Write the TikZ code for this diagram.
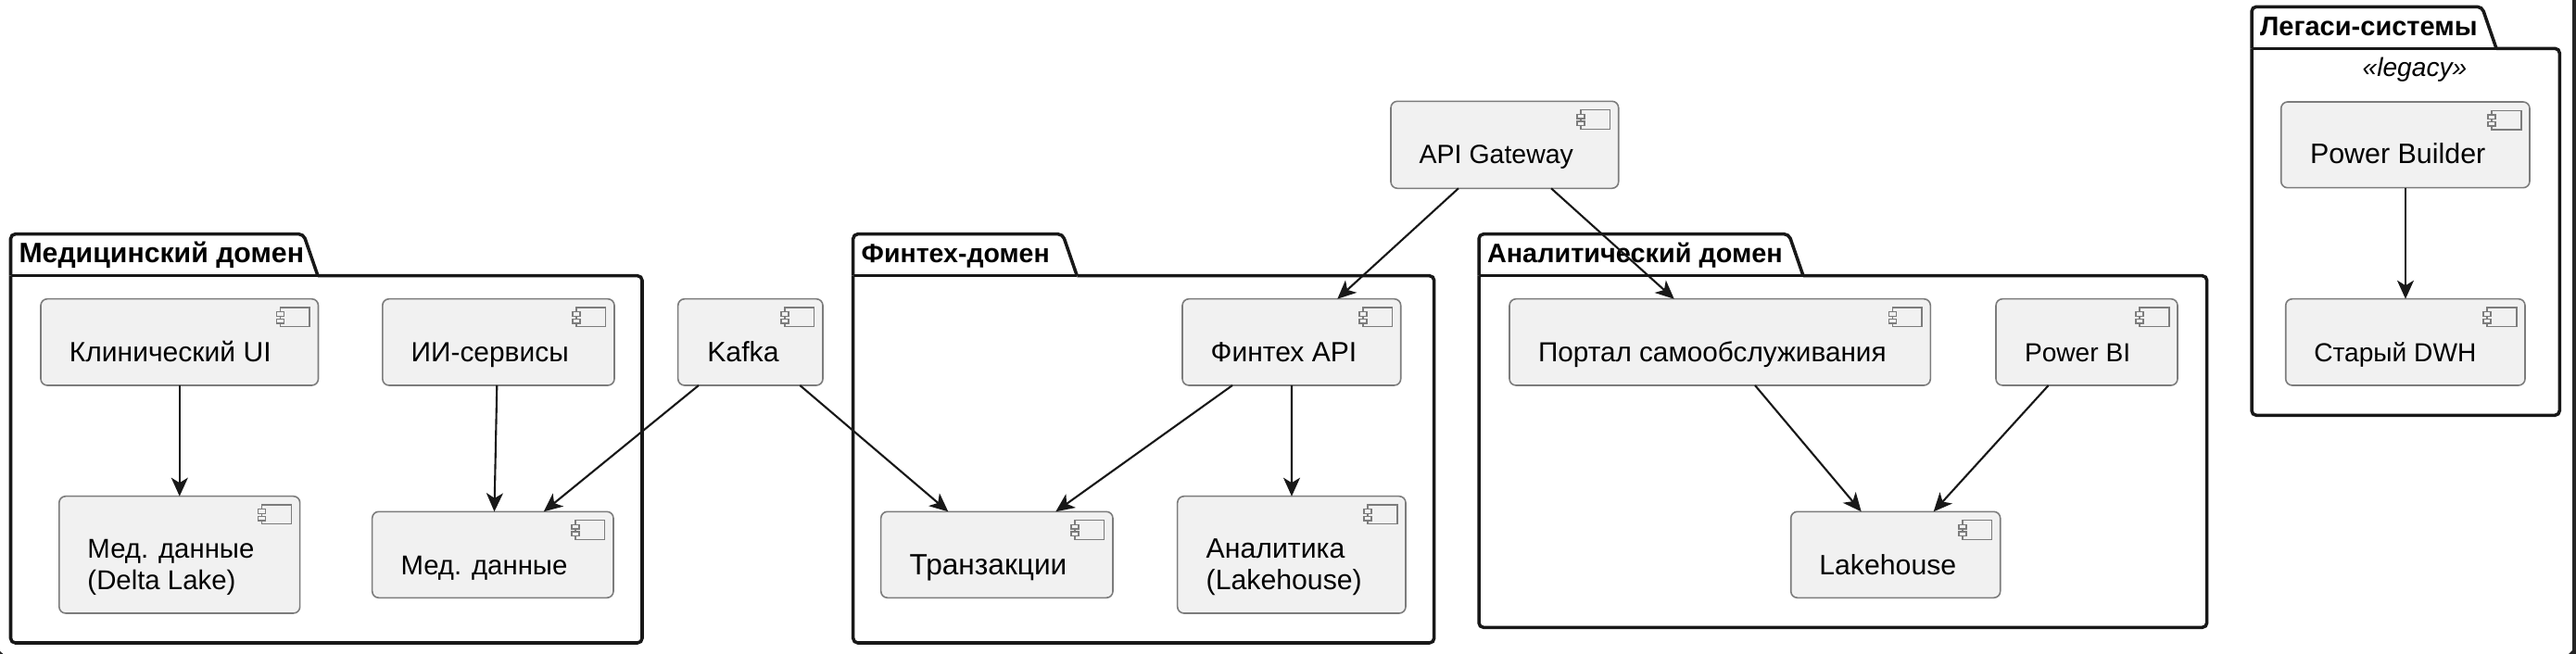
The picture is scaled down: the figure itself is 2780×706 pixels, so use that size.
\documentclass[tikz,border=0pt]{standalone}
\usepackage{fontspec}
\setmainfont{Liberation Sans}
\usetikzlibrary{arrows.meta}
\def\pxu{0.01cm}
\definecolor{boxfill}{HTML}{F1F1F1}
\definecolor{boxline}{HTML}{7C7C7C}
\definecolor{inkline}{HTML}{181818}
\tikzset{
  compbox/.style={draw=boxline,line width=0.45pt,fill=boxfill,rounded corners=2pt,inner sep=0pt,outer sep=0pt,anchor=north west},
  complabel/.style={align=left,inner sep=0pt,outer sep=0pt,anchor=base west},
  pkgtitle/.style={inner sep=0pt,outer sep=0pt,anchor=base west},
  pkgline/.style={draw=inkline,line width=1pt},
  iconline/.style={draw=boxline,line width=0.45pt,fill=boxfill},
  flow/.style={draw=inkline,line width=0.6pt,-{Stealth[length=20*\pxu,width=18*\pxu,inset=5.5*\pxu]}}
}
\begin{document}
\begin{tikzpicture}[x=\pxu,y=-\pxu]
  \useasboundingbox (0,0) rectangle (2780,706);
  % edge of the screenshot
  \fill[inkline!95] (2776,0) rectangle (2780,706);
  \fill[inkline!95] (2776,702) -- (2772,706) -- (2776,706) -- cycle;
  \fill[inkline!95] (0,703) -- (3.5,706) -- (0,706) -- cycle;
  % packages
  \foreach \pkg/\pl/\pr/\tt/\bt/\bb/\tabr/\sz/\ttl in {
      med/11.5/693/252.7/297.7/694/343/8.6/{Медицинский домен},
      fin/920.7/1547.7/252.7/297.7/694/1162.3/8.1/{Финтех-домен},
      ana/1596/2381.7/252.7/297.7/677.3/1946/8.2/{Аналитический домен},
      leg/2430/2762.3/7.3/52.3/448.3/2694/8.25/{Легаси-системы}} {
    \draw[pkgline,rounded corners=5*\pxu] (\pl,\bt) -- (\pl,\tt) -- ({\tabr-15.5},\tt) -- (\tabr,\bt);
    \draw[pkgline,rounded corners=5*\pxu] (\tabr,\bt) -- (\pr,\bt) -- (\pr,\bb) -- (\pl,\bb) -- (\pl,\bt);
    \draw[pkgline] (\pl,\bt) -- (\tabr,\bt);
    \node[pkgtitle,font=\fontsize{\sz}{9.45}\selectfont\bfseries] (\pkg-title) at ({\pl+9},{\tt+31}) {\ttl};
  }
  \node[font=\fontsize{8}{9.45}\selectfont\itshape,inner sep=0pt,anchor=base] (legstereo) at (2606,83) {«legacy»};
  % components
  \foreach \name/\xl/\yt/\bw/\bh/\tx/\bl/\sz/\ttx in {
      clinui/44/322.7/299.5/93.3/30.8/67.3/8.55/{Клинический UI},
      aisvc/412.8/322.7/250.2/93.3/30.8/67.3/8.5/{ИИ-сервисы},
      medlake/63.8/535.7/259.9/126.3/30.7/100.3/8.35/{Мед. данные\\(Delta Lake)},
      meddata/401.7/552.3/260.3/93/30.8/67.7/8.35/{Мед. данные},
      kafka/731.7/322.7/156.3/93.3/31.6/67.3/8.6/{Kafka},
      tx/950.7/552.3/250.3/93/31/67.7/9/{Транзакции},
      fintechapi/1276/322.7/235.7/93.3/30.7/67.3/8.55/{Финтех API},
      fintechlake/1270.7/535.7/246.3/126.3/31/100.3/8.6/{Аналитика\\(Lakehouse)},
      gateway/1501/109.3/245.7/94/30.7/67.4/8.1/{API Gateway},
      portal/1629/322.7/454.3/93.3/31/67.3/8.45/{Портал самообслуживания},
      powerbi/2154/322.7/196/93.3/31/67.3/8/{Power BI},
      lakehouse/1932.7/552.3/226/93/30.6/67.7/8.6/{Lakehouse},
      powerbuilder/2461.7/110/268.3/92.7/31.3/66.7/8.65/{Power Builder},
      olddwh/2466.7/322.7/258.3/93.3/30.6/67.3/8/{Старый DWH}} {
    \node[compbox,minimum width=\bw*\pxu,minimum height=\bh*\pxu] (\name) at (\xl,\yt) {};
    \node[complabel,font=\fontsize{\sz}{9.45}\selectfont] (\name-label) at ([xshift=\tx*\pxu,yshift=-\bl*\pxu]\name.north west) {\ttx};
    % component icon
    \draw[iconline] ([xshift=-41*\pxu,yshift=-9.3*\pxu]\name.north east) rectangle ++(31.7,20.7);
    \draw[iconline] ([xshift=-45*\pxu,yshift=-14*\pxu]\name.north east) rectangle ++(8,4.7);
    \draw[iconline] ([xshift=-45*\pxu,yshift=-21.7*\pxu]\name.north east) rectangle ++(8,4.4);
  }
  % connectors, each end given as a shift along the box edge
  \foreach \from/\fs/\to/\ts in {
      clinui/149.8/medlake/130,
      aisvc/123.5/meddata/131.8,
      kafka/22.3/meddata/185.1,
      kafka/131.6/tx/72.6,
      fintechapi/54/tx/188.6,
      fintechapi/118/fintechlake/123.3,
      gateway/73/fintechapi/167.3,
      gateway/173/portal/177.7,
      portal/265/lakehouse/76,
      powerbi/56.7/lakehouse/154,
      powerbuilder/134.3/olddwh/129.3} {
    \draw[flow] ([xshift=\fs*\pxu]\from.south west) -- ([xshift=\ts*\pxu]\to.north west);
  }
\end{tikzpicture}
\end{document}
